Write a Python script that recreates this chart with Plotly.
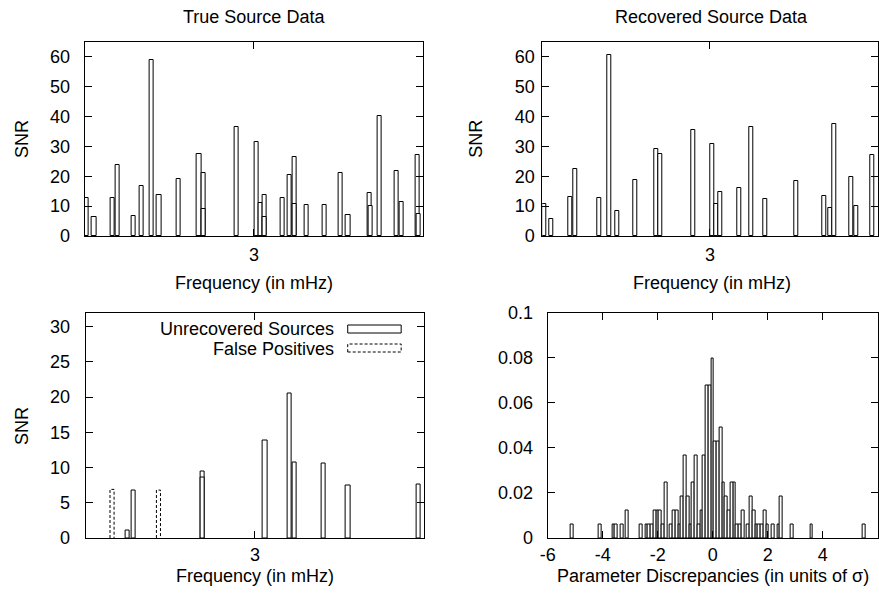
import plotly.graph_objects as go

# ---------------- data ----------------
true_freq = [2.9507, 2.9528, 2.9583, 2.9598, 2.9644, 2.9669, 2.9699, 2.9720, 2.9777,
             2.9838, 2.9850, 2.9949, 3.0007, 3.0019, 3.0032, 3.0084, 3.0104, 3.0119,
             3.0156, 3.0208, 3.0257, 3.0278, 3.0342, 3.0370, 3.0421, 3.0437, 3.0484]
true_snr = [12.7, 6.3, 12.8, 23.7, 6.6, 16.6, 58.9, 13.6, 19.1,
            27.4, 21.1, 36.5, 31.5, 10.9, 13.6, 12.7, 20.3, 26.6,
            10.4, 10.4, 21.0, 7.2, 14.5, 40.1, 21.7, 11.5, 27.0]
# near-coincident sources drawn inside the true-source bars
true_inner_freq = [2.9851, 3.0031, 3.0120, 3.0343, 3.0485]
true_inner_snr = [9.2, 6.4, 10.6, 10.2, 7.4]

rec_freq = [2.9506, 2.9526, 2.9583, 2.9597, 2.9669, 2.9701, 2.9723, 2.9776, 2.9839,
            2.9851, 2.9950, 3.0008, 3.0018, 3.0030, 3.0086, 3.0122, 3.0164, 3.0258,
            3.0340, 3.0358, 3.0370, 3.0422, 3.0435, 3.0485]
rec_snr = [10.6, 5.6, 13.1, 22.4, 12.7, 60.7, 8.3, 18.7, 29.0,
           27.4, 35.5, 30.8, 10.6, 14.7, 16.1, 36.4, 12.3, 18.3,
           13.5, 9.4, 37.5, 19.9, 10.0, 27.2]

unrec_freq = [2.9623, 2.9642, 2.9845, 2.9846, 3.0030, 3.0101, 3.0116, 3.0204, 3.0275, 3.0483]
unrec_snr = [1.0, 6.7, 9.4, 8.6, 13.8, 20.5, 10.7, 10.6, 7.4, 7.6]

false_freq = [2.9578, 2.9715]
false_snr = [6.9, 6.8]

disc_x = [-5.1, -4.1, -3.6, -3.5, -3.3, -3.1, -2.6, -2.4, -2.3, -2.2, -2.1, -2.0, -1.9,
          -1.8, -1.7, -1.5, -1.4, -1.3, -1.2, -1.1, -1.0, -0.9, -0.8, -0.7, -0.6,
          -0.5, -0.4, -0.3, -0.2, -0.1, 0.0, 0.1, 0.2, 0.3, 0.4, 0.5, 0.6, 0.7,
          0.8, 0.9, 1.0, 1.1, 1.3, 1.4, 1.5, 1.6, 1.7, 1.8, 1.9, 2.0, 2.2, 2.4,
          2.5, 2.9, 3.6, 5.5]
disc_frac = [0.0061, 0.0061, 0.0061, 0.0061, 0.0061, 0.0123, 0.0061, 0.0061, 0.0061, 0.0061,
             0.0123, 0.0123, 0.0123, 0.0061, 0.0245, 0.0061, 0.0123, 0.0123, 0.0061, 0.0184,
             0.0368, 0.0184, 0.0061, 0.0245, 0.0368, 0.0061, 0.0123, 0.0368, 0.0675, 0.0675,
             0.0798, 0.0429, 0.0429, 0.0491, 0.0245, 0.0184, 0.0123, 0.0245, 0.0245, 0.0061,
             0.0061, 0.0123, 0.0061, 0.0184, 0.0123, 0.0061, 0.0061, 0.0061, 0.0123, 0.0061,
             0.0061, 0.0061, 0.0184, 0.0061, 0.0061, 0.0061]

disc_ticks = [-6, -4, -2, 0, 2, 4, 6]
disc_tick_text = ["-6", "-4", "-2", "0", "2", "4", "6"]

# ---------------- layout helpers ----------------
W, H = 879, 594
# with this page setup the photographed figure appears inset by 8 px and slightly shrunk;
# positions below are given in photographed pixels and mapped back to paper space
OX, OY, SW, SH = 8, 8, 864, 574
FONT = "Liberation Sans, Arial, sans-serif"
FS = 18
FREQ_W = 0.0012
HIST_W = 0.1


def px(x):
    return min(max((x - OX) / SW, 0.0), 0.9985)


def py(y):
    return min(max(1 - (y - OY) / SH, 0.0), 1.0)


fig = go.Figure()

bar_style = dict(marker=dict(color="white", line=dict(color="black", width=1)),
                 showlegend=False, hoverinfo="skip")

fig.add_trace(go.Bar(x=true_freq, y=true_snr, width=FREQ_W, xaxis="x", yaxis="y", **bar_style))
fig.add_trace(go.Bar(x=true_inner_freq, y=true_inner_snr, width=FREQ_W, xaxis="x", yaxis="y", **bar_style))
fig.add_trace(go.Bar(x=rec_freq, y=rec_snr, width=FREQ_W, xaxis="x2", yaxis="y2", **bar_style))
fig.add_trace(go.Bar(x=unrec_freq, y=unrec_snr, width=FREQ_W, xaxis="x3", yaxis="y3", **bar_style))

# false positives: dashed box outlines built from the data
fx, fy = [], []
for f, s in zip(false_freq, false_snr):
    fx += [f - FREQ_W / 2, f - FREQ_W / 2, f + FREQ_W / 2, f + FREQ_W / 2, None]
    fy += [0, s, s, 0, None]
fig.add_trace(go.Scatter(x=fx, y=fy, mode="lines", xaxis="x3", yaxis="y3",
                         line=dict(color="black", width=1, dash="3px,2px"),
                         showlegend=False, hoverinfo="skip"))

fig.add_trace(go.Bar(x=disc_x, y=disc_frac, width=HIST_W, xaxis="x4", yaxis="y4", **bar_style))

axis_common = dict(showline=True, linecolor="black", linewidth=1, mirror="ticks",
                   ticks="inside", ticklen=7, tickcolor="black", tickwidth=1,
                   showgrid=False, zeroline=False,
                   tickfont=dict(family=FONT, size=FS, color="black"))

freq_top = dict(range=[2.95, 3.05], tickvals=[3], ticktext=["3"], ticklabelstandoff=2, **axis_common)
freq_bot = dict(range=[2.95, 3.05], tickvals=[3], ticktext=["3"], ticklabelstandoff=0, **axis_common)

fig.update_layout(
    width=W, height=H, margin=dict(l=0, r=0, t=0, b=0),
    paper_bgcolor="white", plot_bgcolor="white",
    barmode="overlay", bargap=0,
    font=dict(family=FONT, size=FS, color="black"),
    xaxis=dict(domain=[px(84), px(420)], anchor="y", **freq_top),
    yaxis=dict(domain=[py(234), py(40)], anchor="x", range=[0, 65], dtick=10,
               ticklabelstandoff=10, **axis_common),
    xaxis2=dict(domain=[px(538), px(873)], anchor="y2", **freq_top),
    yaxis2=dict(domain=[py(234), py(40)], anchor="x2", range=[0, 65], dtick=10,
                ticklabelstandoff=3, **axis_common),
    xaxis3=dict(domain=[px(85), px(421)], anchor="y3", **freq_bot),
    yaxis3=dict(domain=[py(536), py(310.5)], anchor="x3", range=[0, 32], dtick=5,
                ticklabelstandoff=11, **axis_common),
    xaxis4=dict(domain=[px(543.3), px(872.3)], anchor="y4", range=[-6, 6],
                tickvals=disc_ticks, ticktext=disc_tick_text,
                ticklabelstandoff=0, **axis_common),
    yaxis4=dict(domain=[py(536), py(310.5)], anchor="x4", range=[0, 0.1], dtick=0.02,
                ticklabelstandoff=10, **axis_common),
)

annots = [
    ("True Source Data", 252, 15, 0),
    ("Recovered Source Data", 706, 15, 0),
    ("SNR", 22, 137, -90),
    ("SNR", 472, 137, -90),
    ("SNR", 22, 424, -90),
    ("Frequency (in mHz)", 252, 281, 0),
    ("Frequency (in mHz)", 706, 281, 0),
    ("Frequency (in mHz)", 253, 574, 0),
    ("Parameter Discrepancies (in units of σ)", 707, 574, 0),
]
for text, x, y, ang in annots:
    fig.add_annotation(text=text, x=px(x), y=py(y), xref="paper", yref="paper",
                       showarrow=False, textangle=ang, xanchor="center", yanchor="middle",
                       font=dict(family=FONT, size=FS, color="black"))

# legend (bottom-left panel)
fig.add_annotation(text="Unrecovered Sources", x=px(333), y=py(327), xref="paper", yref="paper",
                   showarrow=False, xanchor="right", yanchor="middle",
                   font=dict(family=FONT, size=FS, color="black"))
fig.add_annotation(text="False Positives", x=px(333), y=py(347), xref="paper", yref="paper",
                   showarrow=False, xanchor="right", yanchor="middle",
                   font=dict(family=FONT, size=FS, color="black"))
fig.add_shape(type="rect", xref="paper", yref="paper", x0=px(345), x1=px(398), y0=py(331), y1=py(323),
              line=dict(color="black", width=1), fillcolor="white")
fig.add_shape(type="rect", xref="paper", yref="paper", x0=px(345), x1=px(398), y0=py(350), y1=py(342),
              line=dict(color="black", width=1, dash="3px,2px"), fillcolor="white")

fig.write_html("out.html", config={"displayModeBar": False},
               post_script="document.body.style.margin='0';document.documentElement.style.margin='0';document.body.style.overflow='hidden';")
